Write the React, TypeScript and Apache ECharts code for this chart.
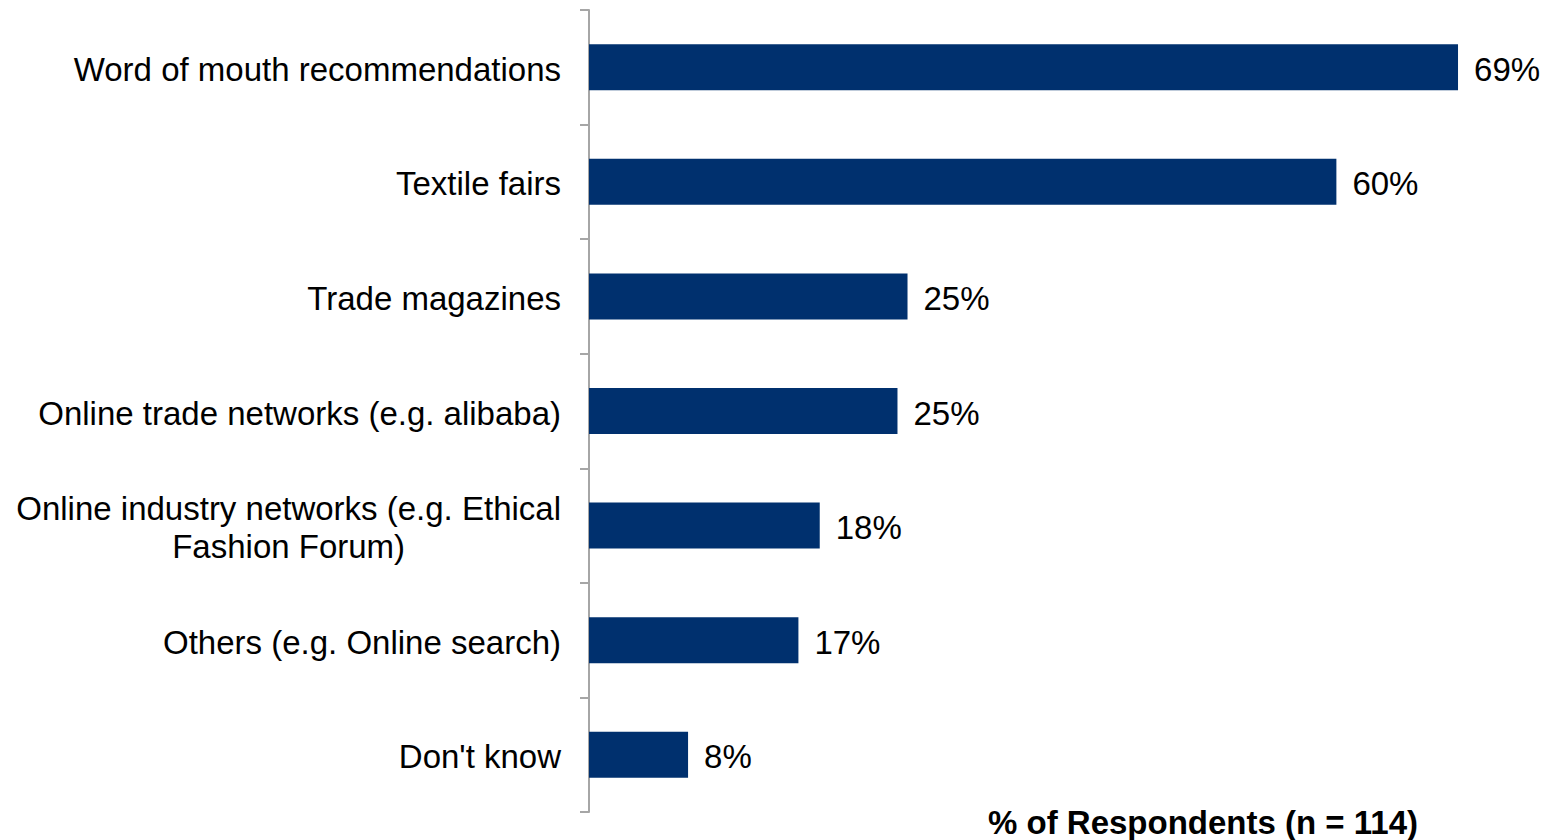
import React, { useEffect, useRef } from "react";
import * as echarts from "echarts";

const categories = [
  "Word of mouth recommendations",
  "Textile fairs",
  "Trade magazines",
  "Online trade networks (e.g. alibaba)",
  "Online industry networks (e.g. Ethical\nFashion Forum)",
  "Others (e.g. Online search)",
  "Don't know",
];
const values = [69.3, 59.6, 25.4, 24.6, 18.4, 16.7, 7.9];
const axisTitle = "% of Respondents (n = 114)";

const FONT = "'Liberation Sans', Arial, Helvetica, sans-serif";

export default function App() {
  const ref = useRef<HTMLDivElement>(null);
  useEffect(() => {
    const chart = echarts.init(ref.current!, null, { renderer: "svg" });
    chart.setOption({
      animation: false,
      backgroundColor: "#ffffff",
      grid: { left: 589, right: 17.5, top: 10, bottom: 28, containLabel: false },
      xAxis: {
        type: "value",
        min: 0,
        max: 75,
        show: false,
        splitLine: { show: false },
      },
      yAxis: {
        type: "category",
        data: categories,
        inverse: true,
        axisLine: { show: true, lineStyle: { color: "#a6a6a6", width: 2 } },
        axisTick: { show: true, length: 9, lineStyle: { color: "#a6a6a6", width: 2 } },
        axisLabel: {
          margin: 28,
          color: "#000",
          fontFamily: FONT,
          fontSize: 33,
          lineHeight: 38,
          padding: [4, 0, 0, 0],
          formatter: (v: string) =>
            v.split("\n").map((l) => `{c|${l}}`).join("\n"),
          rich: {
            c: {
              align: "center",
              color: "#000",
              fontFamily: FONT,
              fontSize: 33,
              lineHeight: 38,
            },
          },
        },
      },
      series: [
        {
          type: "bar",
          data: values,
          barWidth: 46,
          itemStyle: { color: "#00306e" },
          label: {
            show: true,
            position: "right",
            distance: 16,
            offset: [0, 2],
            color: "#000",
            fontFamily: FONT,
            fontSize: 33,
            formatter: (p: any) => `${Math.round(p.value)}%`,
          },
        },
      ],
      graphic: [
        {
          type: "text",
          x: 1203,
          y: 822,
          style: {
            text: axisTitle,
            fontFamily: FONT,
            fontSize: 33,
            fontWeight: "bold",
            fill: "#000",
            textAlign: "center",
            textVerticalAlign: "middle",
          },
        },
      ],
    });
    return () => chart.dispose();
  }, []);
  return (
    <div
      ref={ref}
      style={{ position: "fixed", left: 0, top: 0, width: 1547, height: 840 }}
    />
  );
}
